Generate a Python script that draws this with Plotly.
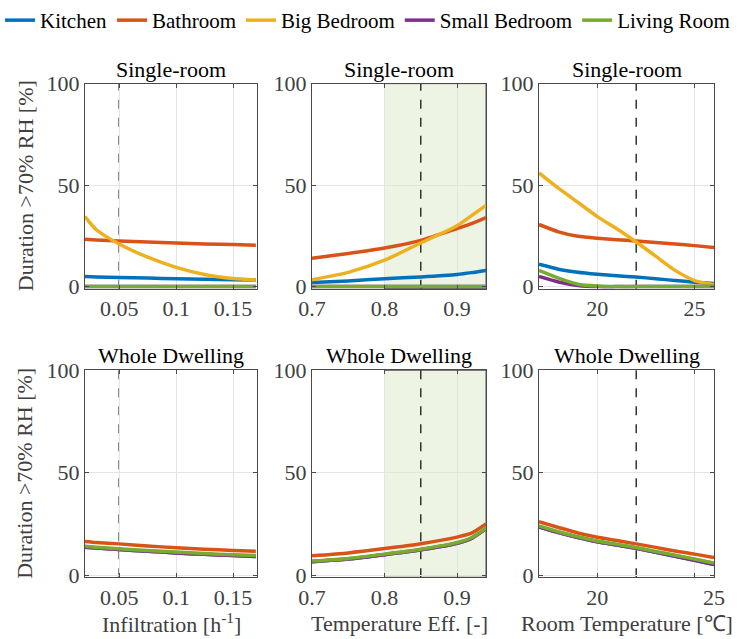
import plotly.graph_objects as go
from plotly.subplots import make_subplots

# ---------------- data ----------------
rooms = ["Kitchen", "Bathroom", "Big Bedroom", "Small Bedroom", "Living Room"]
room_colors = ["#0072BD", "#D95319", "#EDB120", "#7E2F8E", "#77AC30"]

infil_x = [0.02, 0.03, 0.05, 0.075, 0.1, 0.125, 0.15, 0.17]
single_infil_kitchen = [5.0, 4.8, 4.5, 4.2, 3.9, 3.6, 3.4, 3.3]
single_infil_bathroom = [23.3, 23.0, 22.5, 22.0, 21.5, 21.0, 20.7, 20.4]
single_infil_bigbed = [34.5, 28.0, 21.0, 14.5, 9.5, 6.0, 4.0, 3.3]
single_infil_smallbed = [0, 0, 0, 0, 0, 0, 0, 0]
single_infil_living = [0, 0, 0, 0, 0, 0, 0, 0]
whole_infil_kitchen = [13.7, 13.3, 12.5, 11.7, 10.9, 10.2, 9.6, 9.2]
whole_infil_bathroom = [16.5, 16.0, 15.3, 14.3, 13.4, 12.7, 12.1, 11.7]
whole_infil_bigbed = [13.8, 13.4, 12.6, 11.8, 11.0, 10.3, 9.7, 9.3]
whole_infil_smallbed = [13.7, 13.3, 12.5, 11.7, 10.9, 10.2, 9.6, 9.2]
whole_infil_living = [14.1, 13.7, 12.9, 12.1, 11.3, 10.6, 10.0, 9.6]

eff_x = [0.7, 0.75, 0.8, 0.85, 0.9, 0.92, 0.94]
single_eff_kitchen = [2.0, 2.8, 3.9, 4.8, 6.0, 6.9, 8.0]
single_eff_bathroom = [14.0, 16.3, 19.0, 22.8, 28.6, 31.0, 34.0]
single_eff_bigbed = [3.4, 7.0, 13.0, 21.5, 30.0, 35.0, 40.0]
single_eff_smallbed = [0, 0, 0, 0, 0, 0, 0]
single_eff_living = [0, 0, 0, 0, 0, 0, 0]
whole_eff_kitchen = [6.6, 7.9, 10.0, 12.4, 15.6, 18.0, 22.7]
whole_eff_bathroom = [9.5, 10.9, 13.0, 15.4, 18.6, 20.5, 25.0]
whole_eff_bigbed = [6.7, 8.0, 10.1, 12.5, 15.7, 18.1, 22.8]
whole_eff_smallbed = [6.6, 7.9, 10.0, 12.4, 15.6, 18.0, 22.7]
whole_eff_living = [6.9, 8.2, 10.3, 12.7, 15.9, 18.3, 23.0]

temp_x = [17, 18, 19, 20, 21, 22, 23, 24, 25, 26]
single_temp_kitchen = [11.0, 8.6, 7.1, 6.1, 5.3, 4.7, 3.9, 3.0, 2.2, 1.5]
single_temp_bathroom = [30.6, 27.0, 24.8, 23.8, 23.1, 22.5, 21.7, 21.0, 20.2, 19.3]
single_temp_bigbed = [56.0, 48.5, 41.5, 34.5, 28.5, 22.0, 15.0, 8.0, 3.0, 1.0]
single_temp_smallbed = [5.0, 2.3, 0.6, 0, 0, 0, 0, 0, 0, 0]
single_temp_living = [8.0, 4.2, 1.2, 0.3, 0, 0, 0, 0, 0, 0]
whole_temp_kitchen = [23.6, 20.8, 18.4, 16.3, 14.7, 13.1, 11.2, 9.3, 7.3, 5.2]
whole_temp_bathroom = [26.1, 23.3, 20.6, 18.5, 16.9, 15.3, 13.6, 11.8, 10.3, 8.7]
whole_temp_bigbed = [23.8, 21.0, 18.6, 16.5, 14.9, 13.3, 11.4, 9.6, 7.7, 5.8]
whole_temp_smallbed = [23.6, 20.8, 18.4, 16.3, 14.7, 13.1, 11.2, 9.3, 7.3, 5.2]
whole_temp_living = [24.0, 21.2, 18.8, 16.7, 15.1, 13.5, 11.6, 9.8, 7.9, 6.0]

row_titles = ["Single-room", "Whole Dwelling"]
x_titles = ["Infiltration [h<sup>-1</sup>]", "Temperature Eff. [-]", "Room Temperature [℃]"]
y_title = "Duration >70% RH [%]"
reference_values = [0.05, 0.85, 22]
recommended_eff_range = [0.8, 0.94]
x_ranges = [[0.02, 0.171], [0.7, 0.94], [17, 26]]
x_tickvals = [[0.05, 0.1, 0.15], [0.7, 0.8, 0.9], [20, 25]]
x_ticktext = [["0.05", "0.1", "0.15"], ["0.7", "0.8", "0.9"], ["20", "25"]]
whole_temp_tickvals = [20, 26]
whole_temp_ticktext = ["20", "25"]
y_tickvals = [0, 50, 100]

panels = [
    [
        (infil_x, [single_infil_kitchen, single_infil_bathroom, single_infil_bigbed, single_infil_smallbed, single_infil_living]),
        (eff_x, [single_eff_kitchen, single_eff_bathroom, single_eff_bigbed, single_eff_smallbed, single_eff_living]),
        (temp_x, [single_temp_kitchen, single_temp_bathroom, single_temp_bigbed, single_temp_smallbed, single_temp_living]),
    ],
    [
        (infil_x, [whole_infil_kitchen, whole_infil_bathroom, whole_infil_bigbed, whole_infil_smallbed, whole_infil_living]),
        (eff_x, [whole_eff_kitchen, whole_eff_bathroom, whole_eff_bigbed, whole_eff_smallbed, whole_eff_living]),
        (temp_x, [whole_temp_kitchen, whole_temp_bathroom, whole_temp_bigbed, whole_temp_smallbed, whole_temp_living]),
    ],
]

# ---------------- layout geometry ----------------
W, H = 742, 639
col_px = [(85, 257), (312, 486), (539, 714)]
row_px = [(81, 287), (369, 577)]
FONT = "Liberation Serif"
AX = "#4a4a4a"
TXT = "#404040"
GRID = "#e4e4e4"

fig = make_subplots(rows=2, cols=3)

for r in range(2):
    for c in range(3):
        xs, series = panels[r][c]
        for i, ys in enumerate(series):
            fig.add_trace(
                go.Scatter(
                    x=xs, y=ys, mode="lines", name=rooms[i],
                    line=dict(color=room_colors[i], width=3.5, shape="spline", smoothing=0.6),
                    showlegend=(r == 0 and c == 0),
                    legendgroup=rooms[i],
                ),
                row=r + 1, col=c + 1,
            )
        x0, x1 = col_px[c]
        y0, y1 = row_px[r]
        xdom = [x0 / W, x1 / W]
        ydom = [1 - y1 / H, 1 - y0 / H]
        tv, tt = x_tickvals[c], x_ticktext[c]
        minor = dict()
        if r == 1 and c == 2:
            tv, tt = whole_temp_tickvals, whole_temp_ticktext
            minor = dict(tickvals=[x_tickvals[2][1]], showgrid=True, gridcolor=GRID, ticks="inside",
                         ticklen=4, tickcolor=AX)
        fig.update_xaxes(
            domain=xdom, range=x_ranges[c], tickvals=tv, ticktext=tt,
            showgrid=True, gridcolor=GRID, gridwidth=1, zeroline=False,
            showline=True, linecolor=AX, linewidth=1, mirror="ticks",
            ticks="inside", ticklen=4, tickcolor=AX,
            tickfont=dict(family=FONT, size=22, color=TXT),
            showticklabels=True, automargin=False, minor=minor,
            row=r + 1, col=c + 1,
        )
        fig.update_yaxes(
            domain=ydom, range=[-1, 100], tickvals=y_tickvals,
            showgrid=True, gridcolor=GRID, gridwidth=1, zeroline=False,
            showline=True, linecolor=AX, linewidth=1, mirror="ticks",
            ticks="inside", ticklen=4, tickcolor=AX,
            tickfont=dict(family=FONT, size=22, color=TXT),
            automargin=False,
            row=r + 1, col=c + 1,
        )
        idx = r * 3 + c + 1
        xref = "x" if idx == 1 else f"x{idx}"
        yref = "y" if idx == 1 else f"y{idx}"
        if c == 1:
            fig.add_shape(type="rect", xref=xref, yref=f"{yref} domain",
                          x0=recommended_eff_range[0], x1=recommended_eff_range[1], y0=0, y1=1,
                          fillcolor="rgba(119,172,48,0.13)", line=dict(color="#555555", width=1),
                          layer="below")
        fig.add_shape(type="line", xref=xref, yref=f"{yref} domain",
                      x0=reference_values[c], x1=reference_values[c], y0=0, y1=1,
                      line=dict(color="#333333", width=1.5, dash="dash"), layer="below")
        fig.add_annotation(text=row_titles[r], xref="paper", yref="paper",
                           x=(xdom[0] + xdom[1]) / 2, y=ydom[1], xanchor="center", yanchor="bottom",
                           showarrow=False, font=dict(family=FONT, size=22, color="black"))
        if c == 0:
            fig.add_annotation(text=y_title, xref="paper", yref="paper", textangle=-90,
                               x=25 / W, y=(ydom[0] + ydom[1]) / 2, xanchor="center", yanchor="middle",
                               showarrow=False, font=dict(family=FONT, size=22, color=TXT))
        if r == 1:
            fig.add_annotation(text=x_titles[c], xref="paper", yref="paper",
                               x=(xdom[0] + xdom[1]) / 2, y=1 - 623 / H, xanchor="center", yanchor="middle",
                               showarrow=False, font=dict(family=FONT, size=22, color=TXT))

fig.update_layout(
    width=W, height=H,
    margin=dict(l=0, r=0, t=0, b=0),
    paper_bgcolor="white", plot_bgcolor="white",
    font=dict(family=FONT),
    legend=dict(orientation="h", x=0, y=1.005, xanchor="left", yanchor="top",
                font=dict(family=FONT, size=21, color="black"),
                bgcolor="rgba(0,0,0,0)", itemwidth=30, tracegroupgap=0),
)

fig.write_html("out.html", config={"displayModeBar": False},
               post_script="document.body.style.margin='0';")
